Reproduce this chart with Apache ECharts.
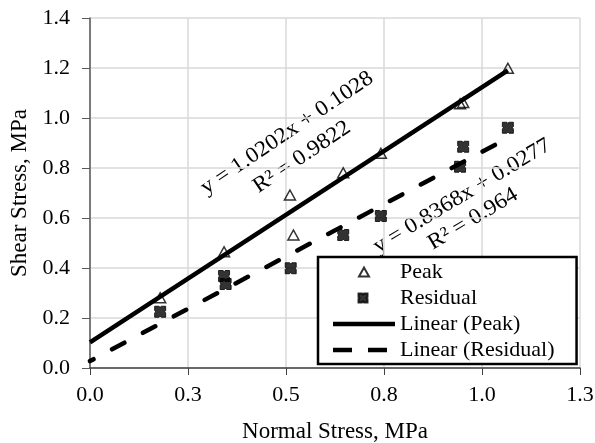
<!DOCTYPE html>
<html>
<head>
<meta charset="utf-8">
<script src="https://cdn.jsdelivr.net/npm/echarts@6/dist/echarts.min.js"></script>
<style>html,body{margin:0;padding:0;background:#fff;}</style>
</head>
<body>
<div id="main" style="width:595px;height:443px;"></div>
<script>
// measured points, [normal stress, shear stress]
var peakPts = [[0.179, 0.281], [0.342, 0.465], [0.510, 0.692], [0.519, 0.532], [0.646, 0.781],
               [0.742, 0.859], [0.944, 1.057], [0.952, 1.062], [1.066, 1.199]];
var residualPts = [[0.179, 0.225], [0.342, 0.368], [0.346, 0.336], [0.512, 0.399], [0.646, 0.532],
                   [0.742, 0.608], [0.952, 0.885], [0.944, 0.805], [1.066, 0.961]];
// trendline end points (Excel linear fit)
var peakFit = [[0, 0.1028], [1.066, 1.1903]];
var residualFit = [[0, 0.0277], [1.066, 0.9197]];
var xTickLabels = ['0.0', '0.3', '0.5', '0.8', '1.0', '1.3'];
var seriesNames = ['Peak', 'Residual', 'Linear (Peak)', 'Linear (Residual)'];
var eqPeak = ['y = 1.0202x + 0.1028', 'R² = 0.9822'];
var eqResidual = ['y = 0.8368x + 0.0277', 'R² = 0.964'];

var font = 'Liberation Serif';
var xMark = 'path://M0,0 L4,0 L5,1 L6,0 L10,0 L10,4 L9,5 L10,6 L10,10 L6,10 L5,9 L4,10 L0,10 L0,6 L1,5 L0,4 Z';

// legend icons drawn in a 62x14 box (zero length corner segments fix the box)
var frame = 'M0,0 L0,0 M62,14 L62,14 ';
var iconPeak = 'path://' + frame + 'M26,11.5 L31,2.5 L36,11.5 Z';
var iconResidual = 'path://' + frame + 'M25.5,2.5 L29,2.5 L30,3.5 L31,2.5 L34.5,2.5 L34.5,6 L33.5,7 L34.5,8 L34.5,11.5 L31,11.5 L30,10.5 L29,11.5 L25.5,11.5 L25.5,8 L26.5,7 L25.5,6 Z';
var iconSolid = 'path://' + frame + 'M0,4.8 L62,4.8 L62,9.2 L0,9.2 Z';
var iconDash = 'path://' + frame + 'M0,4.8 L19,4.8 L19,9.2 L0,9.2 Z M35,4.8 L54,4.8 L54,9.2 L35,9.2 Z';

var chart = echarts.init(document.getElementById('main'));
var deg = Math.PI / 180;

function eqText(x, y, angle, text) {
  return {
    type: 'text', x: x, y: y, rotation: angle * deg, scaleX: 1.07,
    style: {text: text, fontFamily: font, fontSize: 22, fill: '#000', align: 'center', verticalAlign: 'middle'}
  };
}

var option = {
  animation: false,
  textStyle: {fontFamily: font},
  grid: {left: 90, right: 15, top: 18, bottom: 75, containLabel: false, outerBoundsMode: 'none'},
  xAxis: {
    type: 'value', min: 0, max: 1.25, interval: 0.25,
    name: 'Normal Stress, MPa', nameLocation: 'middle', nameGap: 52,
    nameTextStyle: {fontFamily: font, fontSize: 23, color: '#000'},
    axisLine: {lineStyle: {color: '#404040', width: 1.5}},
    axisTick: {show: true, length: 7, lineStyle: {color: '#404040'}},
    axisLabel: {
      margin: 16, fontSize: 22, color: '#000', fontFamily: font,
      formatter: function (v) { return xTickLabels[Math.round(v / 0.25)]; }
    },
    splitLine: {show: true, lineStyle: {color: '#d9d9d9', width: 1.5}}
  },
  yAxis: {
    type: 'value', min: 0, max: 1.4, interval: 0.2,
    name: 'Shear Stress, MPa', nameLocation: 'middle', nameGap: 57,
    nameTextStyle: {fontFamily: font, fontSize: 23, color: '#000'},
    axisLine: {show: true, lineStyle: {color: '#595959', width: 1.5}},
    axisTick: {show: true, length: 8, lineStyle: {color: '#595959'}},
    axisLabel: {
      margin: 20, fontSize: 22, color: '#000', fontFamily: font,
      formatter: function (v) { return v.toFixed(1); }
    },
    splitLine: {show: true, lineStyle: {color: '#d9d9d9', width: 1.5}}
  },
  legend: {
    left: 318, top: 257, orient: 'vertical',
    data: [
      {name: seriesNames[0], icon: iconPeak},
      {name: seriesNames[1], icon: iconResidual},
      {name: seriesNames[2], icon: iconSolid},
      {name: seriesNames[3], icon: iconDash}
    ],
    itemWidth: 62, itemHeight: 14, itemGap: 4,
    padding: [4, 22, 3, 14],
    borderColor: '#000', borderWidth: 2.5,
    backgroundColor: '#fff',
    textStyle: {fontFamily: font, fontSize: 22, lineHeight: 22, color: '#000'}
  },
  graphic: [
    eqText(287, 133, 34, eqPeak[0]),
    eqText(302, 157, 34, eqPeak[1]),
    eqText(462, 196, 31, eqResidual[0]),
    eqText(473, 219, 31, eqResidual[1])
  ],
  series: [
    {
      name: seriesNames[0], type: 'scatter', data: peakPts, z: 2,
      symbol: 'triangle', symbolSize: [11, 10],
      itemStyle: {color: 'rgba(255,255,255,0)', borderColor: '#000', borderWidth: 1.5}
    },
    {
      name: seriesNames[1], type: 'scatter', data: residualPts, z: 2,
      symbol: xMark, symbolSize: 11,
      itemStyle: {color: '#000', borderColor: '#000', borderWidth: 1}
    },
    {
      name: seriesNames[2], type: 'line', data: peakFit, z: 3,
      showSymbol: false, symbol: 'none',
      lineStyle: {color: '#000', width: 4.5, type: 'solid'},
      itemStyle: {color: '#000', borderWidth: 0}
    },
    {
      name: seriesNames[3], type: 'line', data: residualFit, z: 3,
      showSymbol: false, symbol: 'none',
      lineStyle: {color: '#000', width: 4.5, type: [14, 21], dashOffset: 10, cap: 'round'},
      itemStyle: {color: '#000', borderWidth: 0}
    }
  ]
};
chart.setOption(option);
</script>
</body>
</html>
